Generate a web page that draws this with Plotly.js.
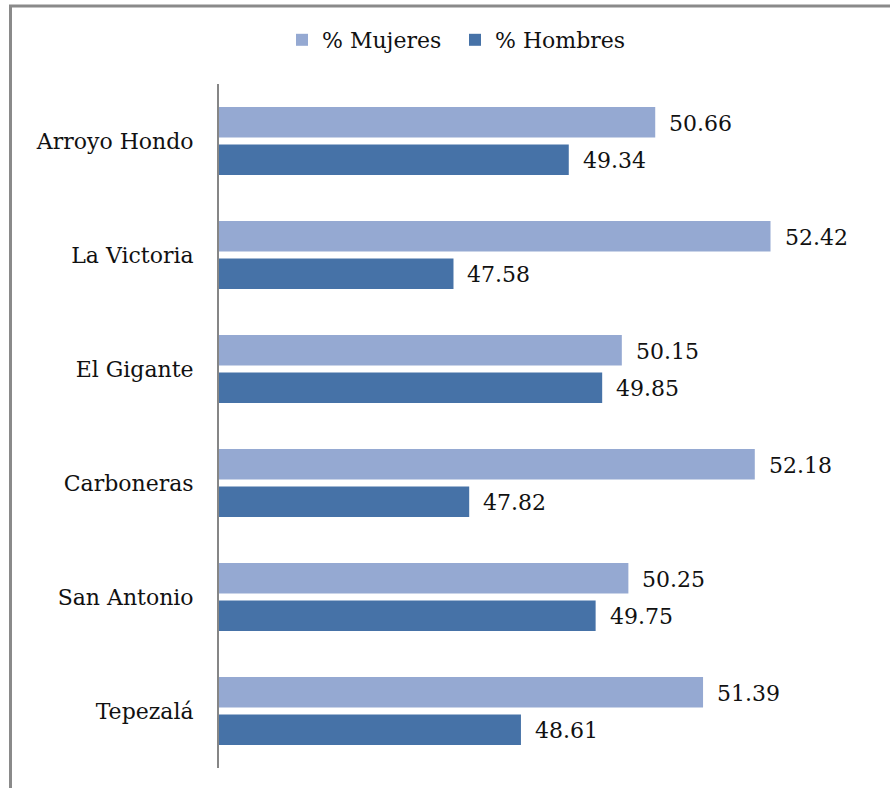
<!DOCTYPE html>
<html>
<head>
<meta charset="utf-8">
<script src="https://cdn.plot.ly/plotly-3.0.1.min.js"></script>
<style>
  html, body { margin: 0; padding: 0; background: #fff; }
  #chart { width: 890px; height: 788px; }
</style>
</head>
<body>
<div id="chart"></div>
<script>
const categories = ["Arroyo Hondo", "La Victoria", "El Gigante", "Carboneras", "San Antonio", "Tepezalá"];
const mujeres = [50.66, 52.42, 50.15, 52.18, 50.25, 51.39];
const hombres = [49.34, 47.58, 49.85, 47.82, 49.75, 48.61];
const seriesNames = ["% Mujeres", "% Hombres"];
const fmt = v => v.toFixed(2);

const W = 890, H = 788;
const M = { l: 219, r: 16, t: 84, b: 20 };
const pw = W - M.l - M.r, ph = H - M.t - M.b;
const px = x => (x - M.l) / pw;
const py = y => (H - M.b - y) / ph;

const FONT = "DejaVu Serif, Liberation Serif, serif";
const textColor = "#111111";

const traces = [
  { type: "bar", orientation: "h", name: seriesNames[0], y: categories, x: mujeres,
    marker: { color: "#95A9D2" }, hoverinfo: "x+y" },
  { type: "bar", orientation: "h", name: seriesNames[1], y: categories, x: hombres,
    marker: { color: "#4672A7" }, hoverinfo: "x+y" }
];

// value labels placed via annotations in data coordinates
const slotShift = 18.75;
const annotations = [];
categories.forEach((c, i) => {
  annotations.push({ x: mujeres[i], y: c, xref: "x", yref: "y", text: fmt(mujeres[i]),
    showarrow: false, xanchor: "left", yanchor: "middle", xshift: 12, yshift: slotShift - 1,
    font: { family: FONT, size: 22, color: textColor } });
  annotations.push({ x: hombres[i], y: c, xref: "x", yref: "y", text: fmt(hombres[i]),
    showarrow: false, xanchor: "left", yanchor: "middle", xshift: 12, yshift: -slotShift - 1,
    font: { family: FONT, size: 22, color: textColor } });
});

const layout = {
  width: W, height: H,
  margin: M,
  paper_bgcolor: "#fff", plot_bgcolor: "#fff",
  barmode: "group",
  bargap: 0.342,
  bargroupgap: 0.187,
  showlegend: true,
  legend: {
    orientation: "h", traceorder: "normal",
    x: px(282), xanchor: "left",
    y: py(40), yanchor: "middle",
    entrywidth: 128, entrywidthmode: "pixels",
    font: { family: FONT, size: 22, color: textColor },
    bgcolor: "rgba(0,0,0,0)"
  },
  xaxis: {
    range: [44, 54], visible: false, fixedrange: true
  },
  yaxis: {
    type: "category", autorange: "reversed",
    showline: true, linecolor: "#868686", linewidth: 2,
    showgrid: false, zeroline: false, ticks: "",
    ticklabelstandoff: 19,
    tickfont: { family: FONT, size: 22, color: textColor },
    fixedrange: true
  },
  annotations: annotations,
  shapes: [
    { type: "line", xref: "paper", yref: "paper", x0: px(10.5), x1: px(10.5), y0: py(5), y1: py(800),
      line: { color: "#8a8a8a", width: 3 } },
    { type: "line", xref: "paper", yref: "paper", x0: px(9), x1: px(900), y0: py(6), y1: py(6),
      line: { color: "#8a8a8a", width: 3 } }
  ]
};

Plotly.newPlot("chart", traces, layout, { displayModeBar: false, staticPlot: true });
</script>
</body>
</html>
